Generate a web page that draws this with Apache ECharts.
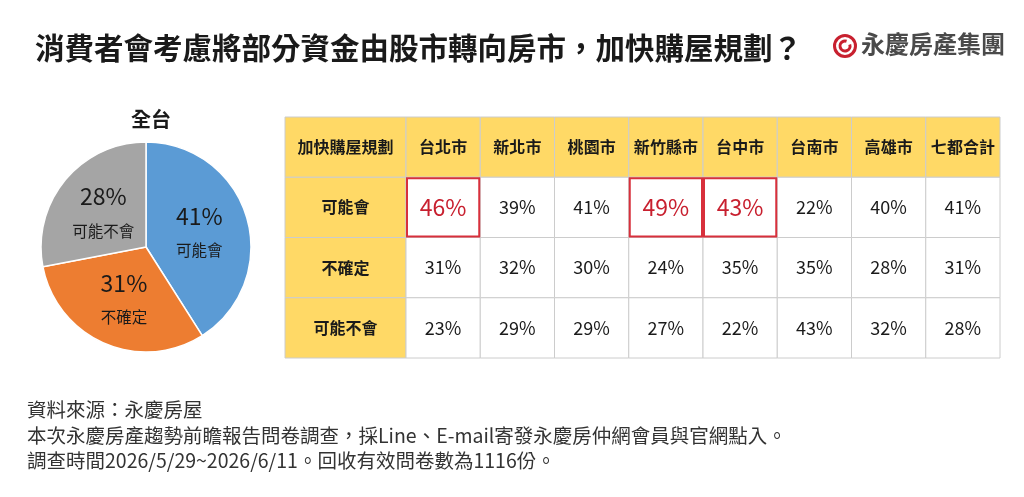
<!DOCTYPE html>
<html>
<head>
<meta charset="utf-8">
<script src="https://cdn.jsdelivr.net/npm/echarts@6/dist/echarts.min.js"></script>
<style>
html,body{margin:0;padding:0;background:#fff;}
#main{width:1024px;height:497px;}
</style>
</head>
<body>
<div id="main"></div>
<script>
// ---------- data ----------
const chartTitle = '消費者會考慮將部分資金由股市轉向房市，加快購屋規劃？';
const brandName = '永慶房產集團';
const pieTitle = '全台';
const pieNames = ['可能會', '不確定', '可能不會'];
const pieValues = [41, 31, 28];
const cornerLabel = '加快購屋規劃';
const cities = ['台北市', '新北市', '桃園市', '新竹縣市', '台中市', '台南市', '高雄市', '七都合計'];
const rowNames = ['可能會', '不確定', '可能不會'];
const likely = [46, 39, 41, 49, 43, 22, 40, 41];
const unsure = [31, 32, 30, 24, 35, 35, 28, 31];
const unlikely = [23, 29, 29, 27, 22, 43, 32, 28];
const highlighted = ['台北市', '新竹縣市', '台中市'];
const footnotes = [
  '資料來源：永慶房屋',
  '本次永慶房產趨勢前瞻報告問卷調查，採Line、E-mail寄發永慶房仲網會員與官網點入。',
  '調查時間2026/5/29~2026/6/11。回收有效問卷數為1116份。'
];

// ---------- styles ----------
const FONT = '"Noto Sans CJK TC", "Noto Sans CJK SC", sans-serif';
const YELLOW = '#FFD966';
const LINE = '#cccccc';
const RED = '#c8202f';
const pieColors = ['#5B9BD5', '#ED7D31', '#A5A5A5'];

const rowValues = [likely, unsure, unlikely];
const yCats = [cornerLabel].concat(rowNames);

const leftItems = [];
leftItems.push({ value: [0, 0], text: cornerLabel, kind: 'head' });
rowNames.forEach((n, r) => leftItems.push({ value: [0, r + 1], text: n, kind: 'head' }));

const dataItems = [];
cities.forEach((c, i) => dataItems.push({ value: [i, 0], text: c, kind: 'head' }));
rowValues.forEach((arr, r) => arr.forEach((v, i) => {
  const hl = r === 0 && highlighted.indexOf(cities[i]) >= 0;
  dataItems.push({ value: [i, r + 1], text: v + '%', kind: hl ? 'hl' : 'cell' });
}));
const hlItems = dataItems.filter(d => d.kind === 'hl').map(d => ({ value: d.value }));

function makeRender(items) {
  return function (params, api) {
    const it = items[params.dataIndex];
    const center = api.coord([api.value(0), api.value(1)]);
    const size = api.size([1, 1]);
    const w = size[0], h = size[1];
    const isHead = it.kind === 'head';
    const isHl = it.kind === 'hl';
    return {
      type: 'group',
      children: [{
        type: 'rect',
        shape: { x: center[0] - w / 2, y: center[1] - h / 2, width: w, height: h },
        style: { fill: isHead ? YELLOW : '#ffffff', stroke: LINE, lineWidth: 1 }
      }, {
        type: 'text',
        style: {
          text: it.text,
          x: center[0], y: center[1],
          align: 'center', verticalAlign: 'middle',
          fontFamily: FONT,
          fontSize: isHead ? 16 : (isHl ? 23 : 18),
          fontWeight: isHead ? 'bold' : 'normal',
          fill: isHl ? RED : '#1a1a1a'
        }
      }]
    };
  };
}

function renderHighlight(params, api) {
  const center = api.coord([api.value(0), api.value(1)]);
  const size = api.size([1, 1]);
  return {
    type: 'rect',
    shape: { x: center[0] - size[0] / 2 + 1, y: center[1] - size[1] / 2 + 1, width: size[0] - 2, height: size[1] - 2 },
    style: { fill: null, stroke: '#d8303c', lineWidth: 2 }
  };
}

const chart = echarts.init(document.getElementById('main'));
chart.setOption({
  backgroundColor: '#ffffff',
  animation: false,
  title: [{
    text: chartTitle,
    left: 30, top: 28,
    textStyle: { fontFamily: FONT, fontSize: 29.5, fontWeight: 'bold', color: '#1a1a1a' }
  }, {
    text: pieTitle,
    left: 146, top: 104, textAlign: 'center',
    textStyle: { fontFamily: FONT, fontSize: 20, fontWeight: 'bold', color: '#1a1a1a' }
  }],
  grid: [
    { left: 285, top: 117, width: 121, height: 241 },
    { left: 406, top: 117, width: 594, height: 241 }
  ],
  xAxis: [
    { type: 'category', gridIndex: 0, data: [cornerLabel], show: false },
    { type: 'category', gridIndex: 1, data: cities, show: false }
  ],
  yAxis: [
    { type: 'category', gridIndex: 0, data: yCats, inverse: true, show: false },
    { type: 'category', gridIndex: 1, data: yCats, inverse: true, show: false }
  ],
  series: [{
    type: 'pie',
    center: [146, 247],
    radius: [0, 105],
    startAngle: 90,
    clockwise: true,
    silent: true,
    itemStyle: { borderColor: '#ffffff', borderWidth: 1.5 },
    label: {
      show: true,
      position: 'inside',
      formatter: p => '{v|' + p.value + '%}\n{n|' + p.name + '}',
      rich: {
        v: { fontFamily: FONT, fontSize: 23, color: '#1a1a1a', lineHeight: 38, align: 'center' },
        n: { fontFamily: FONT, fontSize: 15.5, color: '#1a1a1a', lineHeight: 30, align: 'center' }
      }
    },
    labelLine: { show: false },
    data: pieNames.map((n, i) => ({ name: n, value: pieValues[i], itemStyle: { color: pieColors[i] } }))
  }, {
    type: 'custom',
    xAxisIndex: 0, yAxisIndex: 0,
    renderItem: makeRender(leftItems),
    data: leftItems.map(d => d.value),
    silent: true
  }, {
    type: 'custom',
    xAxisIndex: 1, yAxisIndex: 1,
    renderItem: makeRender(dataItems),
    data: dataItems.map(d => d.value),
    silent: true
  }, {
    type: 'custom',
    xAxisIndex: 1, yAxisIndex: 1,
    z: 5,
    renderItem: renderHighlight,
    data: hlItems.map(d => d.value),
    silent: true
  }],
  graphic: [
    { type: 'ring', shape: { cx: 845, cy: 46, r: 12, r0: 9 }, style: { fill: RED } },
    { type: 'arc', shape: { cx: 845, cy: 46, r: 5, startAngle: -Math.PI * 0.1, endAngle: Math.PI * 1.6 }, style: { stroke: RED, lineWidth: 3, fill: null } },
    { type: 'text', left: 861, top: 32, style: { text: brandName, fontFamily: FONT, fontSize: 24, fontWeight: 'bold', fill: '#4a4a4a' } }
  ].concat(footnotes.map((t, i) => ({
    type: 'text', left: 27, top: 400 + i * 25.5,
    style: { text: t, fontFamily: FONT, fontSize: 19.5, fill: '#333333' }
  })))
});
</script>
</body>
</html>
